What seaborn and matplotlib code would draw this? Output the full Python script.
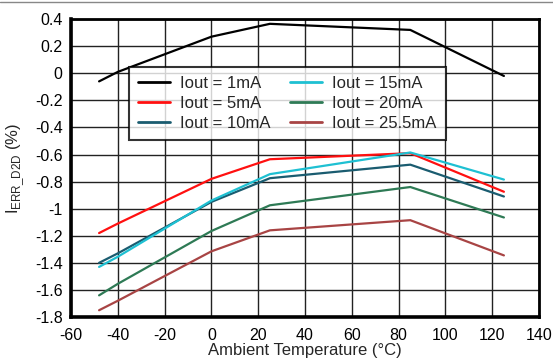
import matplotlib
matplotlib.use("Agg")
import matplotlib.pyplot as plt
import seaborn as sns
import pandas as pd
from matplotlib.lines import Line2D

temps = [-48, -40, 0, 25, 85, 125]
series_names = ["Iout = 1mA", "Iout = 5mA", "Iout = 10mA",
                "Iout = 15mA", "Iout = 20mA", "Iout = 25.5mA"]
iout_1 = [-0.06, 0.01, 0.27, 0.365, 0.32, -0.02]
iout_5 = [-1.18, -1.11, -0.78, -0.635, -0.59, -0.875]
iout_10 = [-1.40, -1.33, -0.95, -0.775, -0.675, -0.91]
iout_15 = [-1.43, -1.355, -0.94, -0.745, -0.585, -0.785]
iout_20 = [-1.64, -1.555, -1.165, -0.975, -0.84, -1.065]
iout_25 = [-1.75, -1.68, -1.315, -1.16, -1.085, -1.345]
colors = ["#000000", "#ff1010", "#1a5c70", "#1ec0d2", "#2e7a55", "#a84444"]
x_ticks = [-60, -40, -20, 0, 20, 40, 60, 80, 100, 120, 140]
y_ticks = [0.4, 0.2, 0, -0.2, -0.4, -0.6, -0.8, -1, -1.2, -1.4, -1.6, -1.8]

values = [iout_1, iout_5, iout_10, iout_15, iout_20, iout_25]
rows = []
for name, vals in zip(series_names, values):
    for t, v in zip(temps, vals):
        rows.append({"T": t, "err": v, "series": name})
df = pd.DataFrame(rows)

sns.set_style("white")
plt.rcParams['font.family'] = ['Liberation Sans', 'DejaVu Sans']

fig = plt.figure(figsize=(5.53, 3.6), dpi=100)
ax = fig.add_axes([0.1284, 0.1194, 0.9747 - 0.1284, 0.947 - 0.1194])

sns.lineplot(data=df, x="T", y="err", hue="series", hue_order=series_names,
             palette=colors, linewidth=1.6, ax=ax, legend=False, zorder=3)

ax.set_xlim(-60, 140)
ax.set_ylim(-1.8, 0.4)
ax.set_xticks(x_ticks)
ax.set_yticks(y_ticks)
ax.set_xticklabels([str(v) for v in x_ticks])
ax.set_yticklabels(["0.4", "0.2", "0", "-0.2", "-0.4", "-0.6", "-0.8", "-1",
                    "-1.2", "-1.4", "-1.6", "-1.8"])
ax.tick_params(axis="both", labelsize=11.5, length=0, colors="#000000")
ax.tick_params(axis="x", pad=8)
ax.tick_params(axis="y", pad=6)
ax.grid(True, color="#222222", linewidth=1.0, zorder=0)
ax.set_axisbelow(True)

for side, lw in [("left", 2.6), ("bottom", 2.6), ("right", 2.0), ("top", 2.0)]:
    ax.spines[side].set_visible(True)
    ax.spines[side].set_color("#000000")
    ax.spines[side].set_linewidth(lw)

ax.set_xlabel("Ambient Temperature (°C)", fontsize=12, labelpad=0)
ax.set_ylabel(r"I$_{\mathregular{ERR\_D2D}}$ (%)", fontsize=12, labelpad=6)

handles = [Line2D([0], [0], color=c, lw=2) for c in colors]
leg = ax.legend(handles, series_names, ncol=2, loc="upper left",
                bbox_to_anchor=(0.124, 0.839), borderaxespad=0,
                fontsize=12, frameon=True, fancybox=False,
                handlelength=1.9, handletextpad=0.6, columnspacing=1.2,
                labelspacing=0.28, borderpad=0.55)
leg.get_frame().set_edgecolor("#000000")
leg.get_frame().set_linewidth(1.5)
leg.set_zorder(5)

fig.add_artist(Line2D([0, 1], [0.994, 0.994], color="#888888", lw=1.0,
                      transform=fig.transFigure))

fig.savefig("out.png", dpi=100)
